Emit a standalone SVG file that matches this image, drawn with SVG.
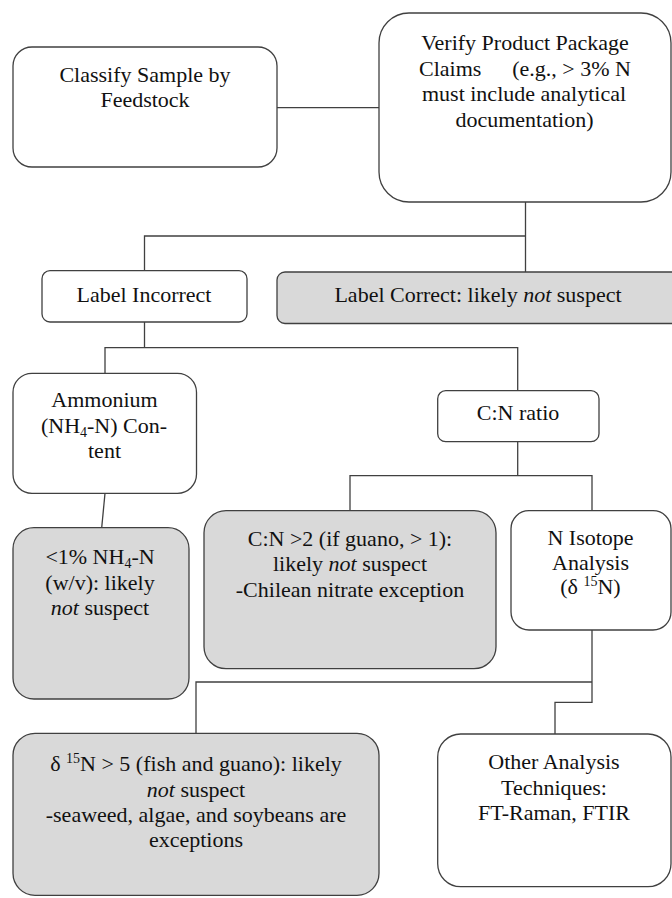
<svg xmlns="http://www.w3.org/2000/svg" width="672" height="898" viewBox="0 0 672 898">
<style>
  .box { fill: #ffffff; stroke: #404040; stroke-width: 1.3; }
  .gray { fill: #d9d9d9; stroke: #404040; stroke-width: 1.3; }
  .conn { fill: none; stroke: #404040; stroke-width: 1.3; }
  text { font-family: "Liberation Serif", "Times New Roman", serif; font-size: 22px; fill: #111111; text-anchor: middle; }
  .it { font-style: italic; }
  .sm { font-size: 14px; }
</style>
<rect x="0" y="0" width="672" height="898" fill="#ffffff"/>
<g id="connectors">
  <path class="conn" d="M277,107.7 H379"/>
  <path class="conn" d="M525.5,202 V272"/>
  <path class="conn" d="M144.5,270.7 V236 H525.5"/>
  <path class="conn" d="M144.5,322 V347.7"/>
  <path class="conn" d="M105,373.3 V347.7 H517.7 V390.7"/>
  <path class="conn" d="M105,493.3 L101.7,527.7"/>
  <path class="conn" d="M517.7,441.7 V475.7"/>
  <path class="conn" d="M350,510.7 V475.7 H592 V510.7"/>
  <path class="conn" d="M592,630 V702.3 H555 V734"/>
  <path class="conn" d="M196,733.3 V682 H592"/>
</g>
<g id="classify">
  <rect class="box" x="13" y="47" width="264" height="120" rx="19"/>
  <text x="145" y="82">Classify Sample by</text>
  <text x="145" y="107">Feedstock</text>
</g>
<g id="verify">
  <rect class="box" x="379" y="13" width="292" height="189" rx="30"/>
  <text x="525" y="50">Verify Product Package</text>
  <text x="525" y="75.5"><tspan x="419" style="text-anchor:start">Claims</tspan><tspan x="631" style="text-anchor:end">(e.g., &gt; 3% N</tspan></text>
  <text x="524" y="101">must include analytical</text>
  <text x="524.5" y="126.5">documentation)</text>
</g>
<g id="label-incorrect">
  <rect class="box" x="42" y="270.7" width="205" height="51.3" rx="8"/>
  <text x="144" y="302">Label Incorrect</text>
</g>
<g id="label-correct">
  <rect class="gray" x="277" y="272" width="403" height="51.5" rx="8"/>
  <text x="478" y="302">Label Correct: likely <tspan class="it">not</tspan> suspect</text>
</g>
<g id="ammonium">
  <rect class="box" x="13" y="373.3" width="183.5" height="120" rx="19"/>
  <text x="104.5" y="407">Ammonium</text>
  <text x="104" y="433">(NH<tspan class="sm" dy="4">4</tspan><tspan dy="-4">-N) Con-</tspan></text>
  <text x="104.5" y="458">tent</text>
</g>
<g id="cn-ratio">
  <rect class="box" x="437.7" y="390.7" width="161.3" height="51" rx="8"/>
  <text x="518" y="420">C:N ratio</text>
</g>
<g id="nh4-result">
  <rect class="gray" x="13" y="527.7" width="176" height="171.3" rx="21"/>
  <text x="100" y="564">&lt;1% NH<tspan class="sm" dy="4">4</tspan><tspan dy="-4">-N</tspan></text>
  <text x="100" y="590">(w/v): likely</text>
  <text x="100" y="615"><tspan class="it">not</tspan> suspect</text>
</g>
<g id="cn-result">
  <rect class="gray" x="204" y="510.7" width="292" height="158" rx="22"/>
  <text x="350" y="546">C:N &gt;2 (if guano, &gt; 1):</text>
  <text x="350" y="571">likely <tspan class="it">not</tspan> suspect</text>
  <text x="350" y="597">-Chilean nitrate exception</text>
</g>
<g id="n-isotope">
  <rect class="box" x="511" y="510.7" width="160" height="119.3" rx="18"/>
  <text x="590.5" y="545">N Isotope</text>
  <text x="590.5" y="569.5">Analysis</text>
  <text x="590.5" y="594">(δ <tspan class="sm" dy="-8">15</tspan><tspan dy="8">N)</tspan></text>
</g>
<g id="isotope-result">
  <rect class="gray" x="13" y="733.3" width="366" height="162" rx="22"/>
  <text x="196" y="771">δ <tspan class="sm" dy="-8">15</tspan><tspan dy="8">N &gt; 5 (fish and guano): likely</tspan></text>
  <text x="196" y="796.5"><tspan class="it">not</tspan> suspect</text>
  <text x="196" y="822">-seaweed, algae, and soybeans are</text>
  <text x="196" y="847">exceptions</text>
</g>
<g id="other-analysis">
  <rect class="box" x="437.7" y="734" width="233.3" height="152.7" rx="23"/>
  <text x="554" y="769">Other Analysis</text>
  <text x="554" y="795">Techniques:</text>
  <text x="554" y="820">FT-Raman, FTIR</text>
</g>
</svg>
